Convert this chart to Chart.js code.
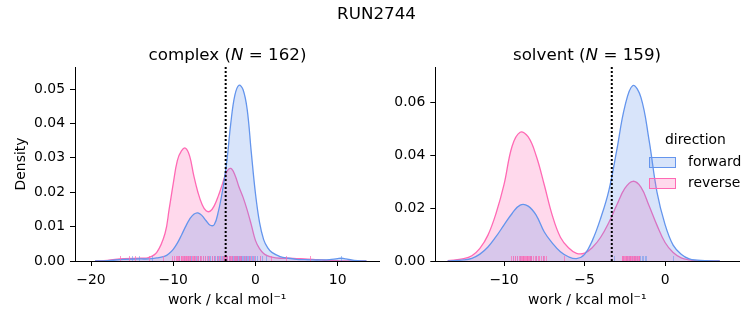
<!DOCTYPE html>
<html><head><meta charset="utf-8">
<script src="https://cdn.jsdelivr.net/npm/chart.js@4"></script>
<style>
body{margin:0;background:#fff;width:753px;height:325px;overflow:hidden;position:relative;font-family:'DejaVu Sans',sans-serif;color:#000}
.box{position:absolute;top:0}
.t{position:absolute;text-align:center;white-space:nowrap;z-index:2;font-size:16.7px;line-height:20px}
.lg{position:absolute;z-index:2;font-size:13.9px;line-height:17px;white-space:nowrap}
.patch{position:absolute;width:25px;height:9px;border:1px solid}
</style></head><body>
<div class="t" style="left:0;width:753px;top:3px">RUN2744</div>
<div class="t" style="left:75px;width:305px;top:44px">complex (<i>N</i> = 162)</div>
<div class="t" style="left:435px;width:304px;top:44px">solvent (<i>N</i> = 159)</div>
<div class="box" style="left:0;width:380px;height:325px"><canvas id="c1" width="380" height="325"></canvas></div>
<div class="box" style="left:380px;width:373px;height:325px"><canvas id="c2" width="373" height="325"></canvas></div>
<div class="lg" style="left:665px;top:131px;width:60px;text-align:center">direction</div>
<div class="patch" style="left:649px;top:157px;background:rgba(100,149,237,0.25);border-color:#6495ed"></div>
<div class="lg" style="left:688px;top:153px">forward</div>
<div class="patch" style="left:649px;top:178px;background:rgba(255,105,180,0.25);border-color:#ff69b4"></div>
<div class="lg" style="left:688px;top:174px">reverse</div>
<script>
// ---- data ----
const complexX = [-19.5,-18,-16,-14,-13,-12,-11,-10.5,-10,-9.5,-9,-8.5,-8,-7.5,-7,-6.5,-6,-5.5,-5,-4.5,-4,-3.5,-3,-2.5,-2,-1.5,-1,-0.5,0,0.5,1,1.5,2,3,4,5,6,7,8,9,10,10.5,11,12,13.5];
const complexForward = [0,0.0001,0.0005,0.0006,0.0006,0.0009,0.0014,0.0022,0.0034,0.0052,0.0075,0.0100,0.0122,0.0136,0.0140,0.0132,0.0117,0.0104,0.0106,0.0145,0.0205,0.0285,0.0400,0.0482,0.0511,0.0498,0.0440,0.0315,0.0197,0.0112,0.0062,0.0038,0.0025,0.0013,0.0008,0.0005,0.0004,0.0003,0.0003,0.0004,0.0007,0.0008,0.0006,0.0002,0];
const complexReverse = [0,0.0002,0.0007,0.0008,0.0010,0.0025,0.0080,0.0150,0.0225,0.0292,0.0320,0.0328,0.0305,0.0248,0.0200,0.0165,0.0146,0.0145,0.0161,0.0190,0.0225,0.0259,0.0269,0.0250,0.0215,0.0185,0.0148,0.0105,0.0060,0.0036,0.0022,0.0015,0.0011,0.0008,0.0008,0.0007,0.0006,0.0005,0.0003,0.0001,0.0001,0,0,0,0];
const solventX = [-13.5,-12.5,-12,-11.5,-11,-10.5,-10,-9.5,-9,-8.5,-8,-7.5,-7,-6.5,-6,-5.5,-5,-4.5,-4,-3.5,-3,-2.5,-2,-1.5,-1,-0.5,0,0.5,1,1.5,2,2.5,3.4];
const solventForward = [0,0.0004,0.0010,0.0026,0.0053,0.0092,0.0137,0.0180,0.0212,0.0208,0.0173,0.0110,0.0068,0.0035,0.0016,0.0009,0.0025,0.0080,0.0162,0.0265,0.0420,0.0585,0.0665,0.0620,0.0460,0.0260,0.0138,0.0060,0.0026,0.0008,0.0003,0.0001,0];
const solventReverse = [0.0001,0.0009,0.0020,0.0048,0.0098,0.0180,0.0290,0.0435,0.0488,0.0470,0.0398,0.0288,0.0172,0.0090,0.0050,0.0029,0.0030,0.0052,0.0090,0.0145,0.0212,0.0275,0.0302,0.0280,0.0210,0.0135,0.0070,0.0032,0.0012,0.0004,0.0001,0,0];
const complexRugForward = [-15.0,-14.2,-12.6,-9.3,-8.7,-8.2,-7.8,-7.5,-7.2,-7.0,-6.7,-6.4,-6.1,-5.8,-5.5,-5.3,-5.1,-4.9,-4.7,-4.5,-4.3,-4.1,-3.9,-3.8,-3.6,-3.5,-3.4,-3.2,-3.1,-2.9,-2.8,-2.7,-2.6,-2.5,-2.4,-2.3,-2.2,-2.1,-2.0,-1.95,-1.9,-1.8,-1.75,-1.7,-1.6,-1.5,-1.4,-1.3,-1.2,-1.1,-1.0,-0.9,-0.75,-0.6,-0.45,-0.3,-0.1,0.2,0.5,0.8,1.3,10.4];
const complexRugReverse = [-16.5,-15.4,-14.6,-12.9,-11.2,-10.1,-9.9,-9.7,-9.55,-9.4,-9.25,-9.1,-9.0,-8.9,-8.8,-8.7,-8.6,-8.5,-8.4,-8.3,-8.2,-8.1,-8.0,-7.9,-7.75,-7.6,-7.45,-7.3,-7.15,-7.0,-6.8,-6.6,-6.35,-6.1,-5.85,-5.6,-5.3,-5.0,-4.7,-4.4,-4.2,-4.0,-3.85,-3.7,-3.55,-3.4,-3.25,-3.1,-2.95,-2.8,-2.65,-2.5,-2.35,-2.2,-2.05,-1.9,-1.7,-1.4,-1.1,-0.8,-0.5,-0.2,0.6,1.9,3.7,6.7];
const solventRugForward = [-9.45,-9.2,-9.0,-8.8,-8.6,-8.4,-8.3,-8.0,-7.6,-3.2,-2.6,-2.45,-2.35,-2.25,-2.15,-2.05,-1.95,-1.85,-1.75,-1.65,-1.55,-1.45,-1.35,-1.25,-1.2,0.5];
const solventRugReverse = [-9.55,-9.45,-9.35,-9.3,-9.2,-9.1,-9.0,-8.95,-8.9,-8.85,-8.8,-8.75,-8.7,-8.65,-8.6,-8.55,-8.5,-8.45,-8.4,-8.35,-8.3,-8.2,-8.1,-8.0,-7.9,-7.8,-7.7,-7.6,-7.5,-7.4,-6.3,-2.7,-2.65,-2.6,-2.55,-2.5,-2.45,-2.4,-2.35,-2.3,-2.25,-2.2,-2.15,-2.1,-2.05,-2.0,-1.95,-1.9,-1.85,-1.8,-1.75,-1.7,-1.65,-1.6];
const complexDG = -3.62;
const solventDG = -3.31;
const complexXTicks = [-20,-10,0,10];
const complexYTicks = [0,0.01,0.02,0.03,0.04,0.05];
const solventXTicks = [-10,-5,0];
const solventYTicks = [0,0.02,0.04,0.06];
const complexXRange = [-21.95, 15.07];
const complexYMax = 0.0564;
const solventXRange = [-14.27, 4.61];
const solventYMax = 0.0735;

// ---- styling ----
const FWD = '#6495ed', REV = '#ff69b4';
const FONT = {family:'DejaVu Sans', size:13.9};

const rugPlugin = {
  id: 'rug',
  afterDatasetDraw(chart, args, opts) {
    if (args.index !== 1) return;
    const {ctx, chartArea} = chart;
    const xs = chart.scales.x;
    ctx.save();
    ctx.lineWidth = 1;
    opts.sets.forEach(s => {
      ctx.strokeStyle = s.color;
      s.values.forEach(v => {
        const px = Math.round(xs.getPixelForValue(v)) + 0.5;
        ctx.beginPath();
        ctx.moveTo(px, chartArea.bottom);
        ctx.lineTo(px, chartArea.bottom - 5);
        ctx.stroke();
      });
    });
    ctx.restore();
  }
};

function fmtX(v){ return String(v).replace('-', '\u2212'); }

function makeChart(id, cfg) {
  const pts = (xs, ys) => xs.map((x,i)=>({x, y: ys[i]}));
  new Chart(document.getElementById(id), {
    type: 'line',
    data: {
      datasets: [
        {data:[{x:cfg.dg,y:0},{x:cfg.dg,y:cfg.yMax}], borderColor:'#000', borderWidth:2, borderDash:[2,2], pointRadius:0, fill:false, tension:0},
        {data:pts(cfg.x,cfg.fwd), borderColor:FWD, backgroundColor:'rgba(100,149,237,0.25)', borderWidth:1.3, pointRadius:0, fill:'origin', tension:0.4},
        {data:pts(cfg.x,cfg.rev), borderColor:REV, backgroundColor:'rgba(255,105,180,0.25)', borderWidth:1.3, pointRadius:0, fill:'origin', tension:0.4}
      ]
    },
    plugins: [rugPlugin],
    options: {
      responsive:false, animation:false, events:[],
      layout:{padding:{top:67, right:cfg.padRight, left:0, bottom:0}},
      plugins:{legend:{display:false}, tooltip:{enabled:false}, title:{display:false},
        rug:{sets:[{color:'rgba(100,149,237,0.55)', values:cfg.rugF},{color:'rgba(255,105,180,0.7)', values:cfg.rugR}]}},
      scales:{
        x:{type:'linear', min:cfg.xRange[0], max:cfg.xRange[1],
          afterBuildTicks: s => { s.ticks = cfg.xTicks.map(v=>({value:v})); },
          afterFit: s => { s.height = 64; },
          ticks:{font:FONT, color:'#000', padding:6, maxRotation:0, callback:v=>fmtX(v)},
          grid:{drawOnChartArea:false, drawTicks:true, tickLength:5, tickColor:'#000', tickWidth:1},
          border:{display:true, color:'#000', width:1},
          title:{display:true, text:'work / kcal mol\u207B\u00B9', font:FONT, color:'#000', padding:{top:0,bottom:16}}
        },
        y:{type:'linear', min:0, max:cfg.yMax,
          afterBuildTicks: s => { s.ticks = cfg.yTicks.map(v=>({value:v})); },
          afterFit: s => { s.width = cfg.yWidth; },
          ticks:{font:FONT, color:'#000', padding:5, callback:v=>v.toFixed(2)},
          grid:{drawOnChartArea:false, drawTicks:true, tickLength:5, tickColor:'#000', tickWidth:1},
          border:{display:true, color:'#000', width:1},
          title:{display:cfg.yTitle, text:'Density', font:FONT, color:'#000', padding:{top:13,bottom:0}}
        }
      }
    }
  });
}

makeChart('c1', {x:complexX, fwd:complexForward, rev:complexReverse, rugF:complexRugForward, rugR:complexRugReverse,
  dg:complexDG, xTicks:complexXTicks, yTicks:complexYTicks, xRange:complexXRange, yMax:complexYMax,
  yWidth:75, padRight:0.7, yTitle:true});
makeChart('c2', {x:solventX, fwd:solventForward, rev:solventReverse, rugF:solventRugForward, rugR:solventRugReverse,
  dg:solventDG, xTicks:solventXTicks, yTicks:solventYTicks, xRange:solventXRange, yMax:solventYMax,
  yWidth:55.3, padRight:13.7, yTitle:false});
</script>
</body></html>
